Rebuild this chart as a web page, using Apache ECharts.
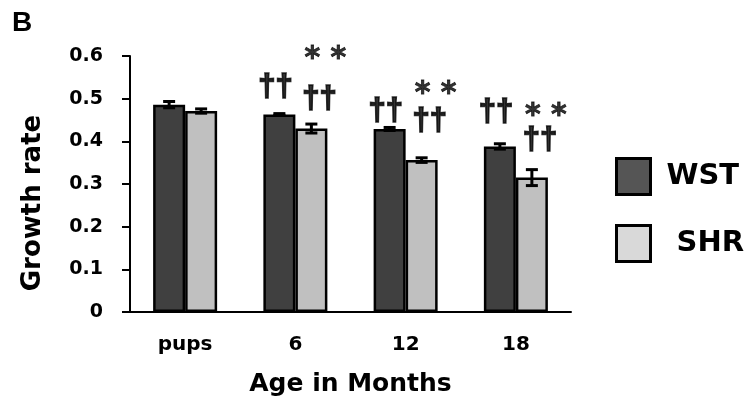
<!DOCTYPE html>
<html>
<head>
<meta charset="utf-8">
<script src="https://cdn.jsdelivr.net/npm/echarts@6/dist/echarts.min.js"></script>
<style>
  html, body { margin: 0; padding: 0; background: #fff; }
  #chart { width: 749px; height: 403px; }
</style>
</head>
<body>
<div id="chart"></div>
<script>
// Age groups on the x axis
const categories = ['pups', '6', '12', '18'];
// Mean growth rate per group
const wst = [0.486, 0.463, 0.429, 0.388];
const shr = [0.471, 0.430, 0.356, 0.315];
// Standard errors
const wstErr = [0.0074, 0.002, 0.0035, 0.0063];
const shrErr = [0.005, 0.0105, 0.0054, 0.0187];
// Significance marks: [category index, height in growth-rate units]
const daggerWST = [[1, 0.529], [2, 0.473], [3, 0.471]];
const daggerSHR = [[1, 0.501], [2, 0.450], [3, 0.405]];
const starSHR = [[1, 0.609], [2, 0.527], [3, 0.475]];
// Y axis ticks
const yTicks = { min: 0, max: 0.6, interval: 0.1 };

const FONT = 'DejaVu Sans';
const BAR_W = 32;

function errorBars(values, errs, offset) {
  return {
    type: 'custom',
    z: 5,
    silent: true,
    data: values.map((v, i) => [i, v, errs[i]]),
    renderItem: function (params, api) {
      const i = api.value(0), v = api.value(1), e = api.value(2);
      const top = api.coord([i, v + e]);
      const bot = api.coord([i, v - e]);
      const x = top[0] + offset;
      const cap = 6;
      const style = { stroke: '#000', lineWidth: 3 };
      return {
        type: 'group',
        children: [
          { type: 'line', shape: { x1: x, y1: top[1], x2: x, y2: bot[1] }, style: style },
          { type: 'line', shape: { x1: x - cap, y1: top[1], x2: x + cap, y2: top[1] }, style: style },
          { type: 'line', shape: { x1: x - cap, y1: bot[1], x2: x + cap, y2: bot[1] }, style: style }
        ]
      };
    }
  };
}

function marks(points, text, dx, dy, size, family, weight) {
  return {
    type: 'scatter',
    z: 6,
    silent: true,
    clip: false,
    symbolSize: 1,
    itemStyle: { color: 'rgba(0,0,0,0)' },
    data: points,
    label: {
      show: true,
      position: 'inside',
      formatter: text,
      offset: [dx, dy],
      color: '#000',
      // a thin outline in the same colour makes the glyphs heavier
      textBorderColor: '#000',
      textBorderWidth: weight,
      fontFamily: family,
      fontWeight: 'bold',
      fontSize: size
    }
  };
}

const chart = echarts.init(document.getElementById('chart'), null, { renderer: 'canvas' });
chart.setOption({
  animation: false,
  backgroundColor: '#fff',
  title: {
    text: 'B',
    left: 12,
    top: 9,
    padding: 0,
    textStyle: { fontFamily: 'Liberation Sans Narrow, Liberation Sans', fontWeight: 'bold', fontSize: 28, color: '#000' }
  },
  grid: { left: 130, right: 178, top: 56, bottom: 91 },
  legend: {
    orient: 'vertical',
    left: 615,
    top: 157,
    padding: 0,
    itemWidth: 34,
    itemHeight: 36,
    itemGap: 28,
    icon: 'rect',
    itemStyle: { borderColor: '#000', borderWidth: 3 },
    textStyle: { fontFamily: FONT, fontWeight: 'bold', fontSize: 29, color: '#000' },
    data: [
      { name: 'WST', itemStyle: { color: '#555555' }, textStyle: { padding: [0, 0, 0, 11] } },
      { name: 'SHR', itemStyle: { color: '#d9d9d9' }, textStyle: { padding: [0, 0, 0, 21] } }
    ]
  },
  xAxis: {
    type: 'category',
    data: categories,
    name: 'Age in Months',
    nameLocation: 'middle',
    nameGap: 60,
    nameTextStyle: { fontFamily: FONT, fontWeight: 'bold', fontSize: 25, color: '#000' },
    axisLine: { lineStyle: { color: '#000', width: 2 } },
    axisTick: { show: false },
    axisLabel: { margin: 23, fontFamily: FONT, fontWeight: 'bold', fontSize: 20, color: '#000' }
  },
  yAxis: {
    type: 'value',
    min: yTicks.min,
    max: yTicks.max,
    interval: yTicks.interval,
    name: 'Growth rate',
    nameLocation: 'middle',
    nameGap: 84,
    nameTextStyle: { fontFamily: FONT, fontWeight: 'bold', fontSize: 26, color: '#000', padding: [0, 38, 0, 0] },
    splitLine: { show: false },
    axisLine: { show: true, lineStyle: { color: '#000', width: 2 } },
    axisTick: { show: true, length: 8, lineStyle: { color: '#000', width: 2 } },
    axisLabel: { margin: 27, fontFamily: FONT, fontWeight: 'bold', fontSize: 19, color: '#000' }
  },
  series: [
    {
      name: 'WST',
      type: 'bar',
      data: wst,
      barWidth: BAR_W,
      barGap: '0%',
      itemStyle: { color: '#404040', borderColor: '#000', borderWidth: 2.5 }
    },
    {
      name: 'SHR',
      type: 'bar',
      data: shr,
      barWidth: BAR_W,
      barGap: '0%',
      itemStyle: { color: '#c0c0c0', borderColor: '#000', borderWidth: 2.5 }
    },
    errorBars(wst, wstErr, -BAR_W / 2),
    errorBars(shr, shrErr, BAR_W / 2),
    marks(daggerWST, '††', -20, 1, 31, 'Liberation Sans', 1.6),
    marks(daggerSHR, '††', 24, 1, 31, 'Liberation Sans', 1.6),
    marks(starSHR, '* *', 30, 7, 30, FONT, 0.8)
  ]
});
</script>
</body>
</html>
